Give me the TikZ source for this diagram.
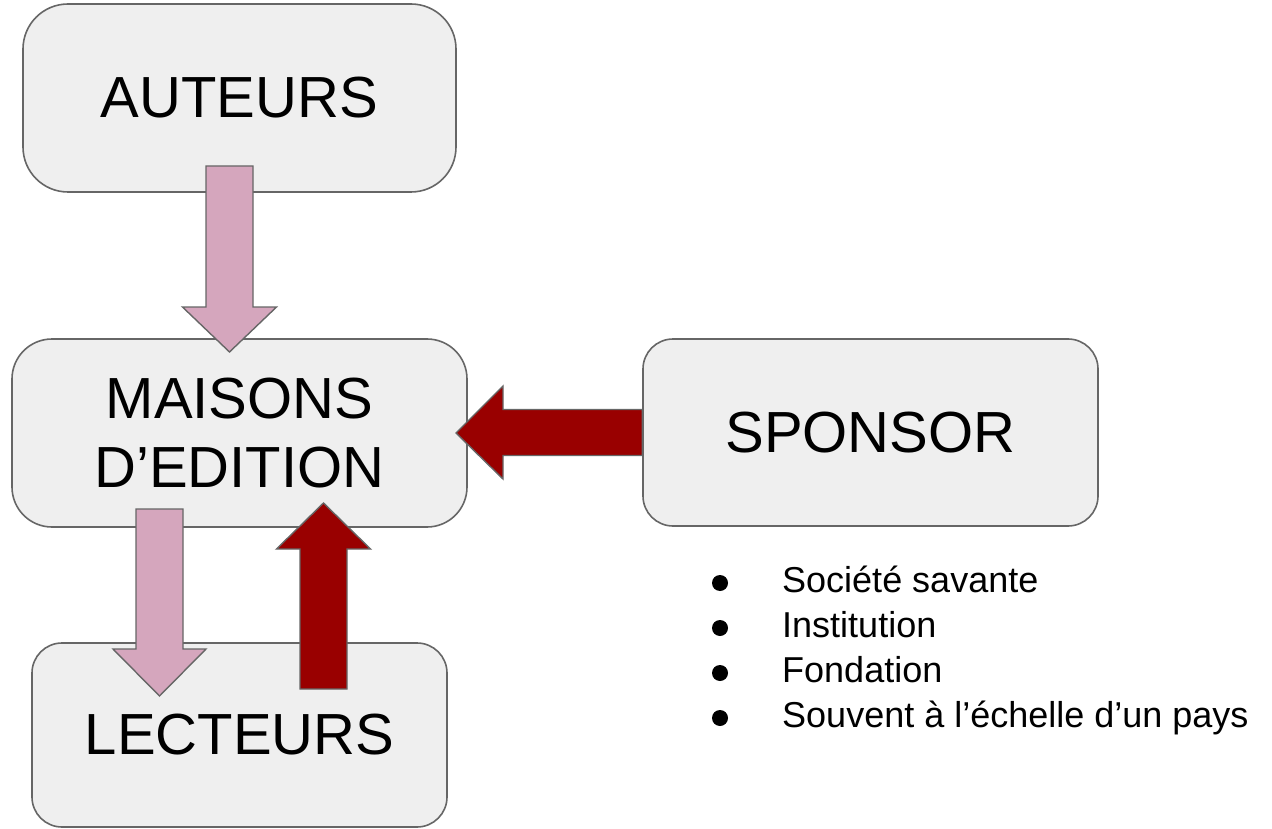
\documentclass[tikz,border=0pt]{standalone}
\usepackage{fontspec}
\setmainfont{Liberation Sans}
\usetikzlibrary{calc}
\definecolor{boxfill}{HTML}{EFEFEF}
\definecolor{boxline}{HTML}{666666}
\definecolor{pinkfill}{HTML}{D5A6BD}
\definecolor{redfill}{HTML}{990000}
\newcommand\varrow[6]{\draw[#1] let \p1=(#2), \p2=(#3) in (\x1-#4,\y1) -- (\x1+#4,\y1) -- (\x1+#4,\y2+#6) -- (\x1+#5,\y2+#6) -- (\x2,\y2) -- (\x1-#5,\y2+#6) -- (\x1-#4,\y2+#6) -- cycle;}
\newcommand\harrow[6]{\draw[#1] let \p1=(#2), \p2=(#3) in (\x1,\y1-#4) -- (\x1,\y1+#4) -- (\x2+#6,\y1+#4) -- (\x2+#6,\y1+#5) -- (\x2,\y2) -- (\x2+#6,\y1-#5) -- (\x2+#6,\y1-#4) -- cycle;}
\tikzset{
  box/.style={draw=boxline, fill=boxfill, line width=1.6pt, inner sep=0pt, align=center,
    font=\fontsize{58}{69}\selectfont},
  pinkarrow/.style={draw=boxline, fill=pinkfill, line width=1.4pt, line join=miter},
  redarrow/.style={draw=boxline, fill=redfill, line width=1.4pt, line join=miter},
  item/.style={anchor=base west, inner sep=0pt, font=\fontsize{36}{45}\selectfont},
  dot/.style={fill=black}
}
\begin{document}
\begin{tikzpicture}[x=1pt,y=-1pt]
\useasboundingbox (0,0) rectangle (1272,829);
\node[box, rounded corners=45pt, minimum width=433pt, minimum height=188pt] (aut) at (239.5,98) {AUTEURS};
\node[box, rounded corners=40pt, minimum width=455pt, minimum height=188pt] (mai) at (239.5,433) {MAISONS\\D’EDITION};
\node[box, rounded corners=30pt, minimum width=415pt, minimum height=184pt] (lec) at (239.5,735) {LECTEURS};
\node[box, rounded corners=30pt, minimum width=455pt, minimum height=187pt] (spo) at (870.5,432.5) {SPONSOR};
% arrow end points
\coordinate (a1s) at (229.5,166); \coordinate (a1t) at (229.5,352);
\coordinate (a2s) at (159.5,509); \coordinate (a2t) at (159.5,696);
\coordinate (a3s) at (323.5,689); \coordinate (a3t) at (323.5,503);
\coordinate (a4s) at (spo.west);  \coordinate (a4t) at (456,433);
\varrow{pinkarrow}{a1s}{a1t}{23.5pt}{47pt}{45pt}
\varrow{pinkarrow}{a2s}{a2t}{23.5pt}{46.5pt}{47pt}
\varrow{redarrow}{a3s}{a3t}{23.5pt}{47pt}{-46pt}
\harrow{redarrow}{a4s}{a4t}{23pt}{46.5pt}{47pt}
% bullet list
\fill[dot] (720,583) circle (8);
\fill[dot] (720,628) circle (8);
\fill[dot] (720,673) circle (8);
\fill[dot] (720,718) circle (8);
\node[item] (b1) at (782,592) {Société savante};
\node[item] (b2) at (782,637) {Institution};
\node[item] (b3) at (782,682) {Fondation};
\node[item] (b4) at (782,727) {Souvent à l’échelle d’un pays};
\end{tikzpicture}
\end{document}
